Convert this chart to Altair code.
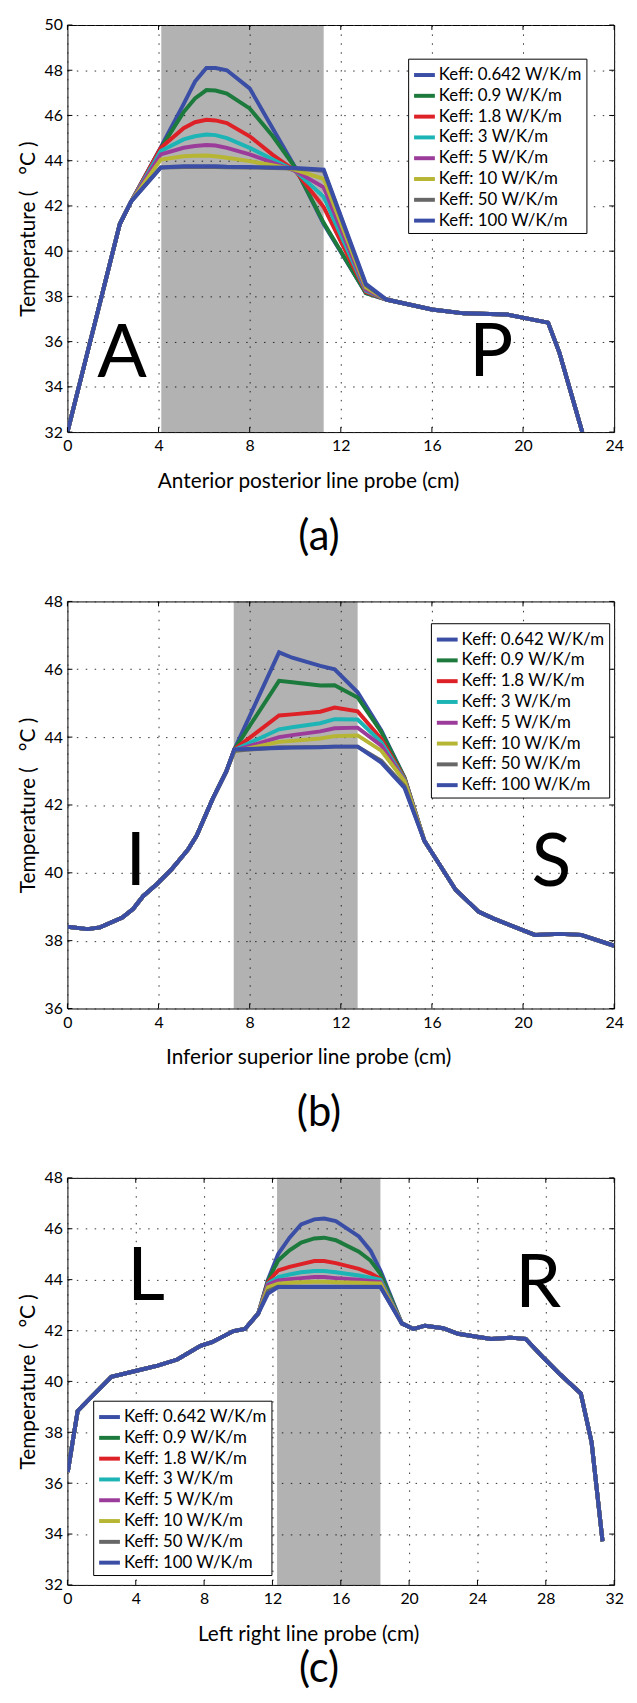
import altair as alt
import pandas as pd

FONT = "Lato"
W, H = 552, 411

SERIES = ["Keff: 0.642 W/K/m", "Keff: 0.9 W/K/m", "Keff: 1.8 W/K/m", "Keff: 3 W/K/m",
          "Keff: 5 W/K/m", "Keff: 10 W/K/m", "Keff: 50 W/K/m", "Keff: 100 W/K/m"]
COLORS = ["#3a4ea6", "#1c7a3c", "#de2127", "#1db4b6", "#9c3c9a", "#b6b534", "#676767", "#3a4ea6"]
YTITLE = "Temperature ( \u00a0\u00a0\u00b0C )"

# ---------------- Panel (a) ----------------
XA_LEFT = [0.0, 2.3, 2.8]
TA_LEFT = [32.0, 41.2, 42.2]
XA_MID = [4.1, 5.1, 5.6, 6.1, 6.5, 7.0, 8.0, 9.0, 10.0, 11.25, 13.1]
TA_MID = [
    [44.6, 46.5, 47.5, 48.1, 48.1, 48.0, 47.2, 45.45, 43.7, 41.2, 38.15],
    [44.55, 46.15, 46.75, 47.12, 47.1, 46.97, 46.31, 45.1, 43.7, 41.25, 38.15],
    [44.57, 45.44, 45.7, 45.81, 45.78, 45.66, 45.08, 44.27, 43.55, 41.95, 38.2],
    [44.43, 44.94, 45.08, 45.16, 45.13, 45.0, 44.57, 44.06, 43.55, 42.4, 38.25],
    [44.28, 44.57, 44.65, 44.69, 44.67, 44.57, 44.28, 43.92, 43.55, 42.82, 38.3],
    [44.05, 44.2, 44.22, 44.23, 44.2, 44.13, 43.98, 43.8, 43.6, 43.2, 38.4],
    [43.7, 43.72, 43.72, 43.72, 43.72, 43.71, 43.7, 43.68, 43.65, 43.55, 38.5],
    [43.7, 43.75, 43.75, 43.75, 43.75, 43.73, 43.72, 43.7, 43.68, 43.6, 38.56],
]
XA_RIGHT = [14.0, 16.0, 17.4, 19.3, 21.1, 21.6, 22.6]
TA_RIGHT = [37.86, 37.42, 37.25, 37.2, 36.84, 35.5, 32.0]
BAND_A = [4.12, 11.25]
LET_A = ["A", "P"]
LET_A_X = [2.4, 18.6]
LET_A_Y = [34.45, 34.5]
XTICKS_A = [0, 4, 8, 12, 16, 20, 24]
YTICKS_A = [32, 34, 36, 38, 40, 42, 44, 46, 48, 50]

# ---------------- Panel (b) ----------------
XB_LEFT = [0.0, 0.89, 1.43, 2.41, 2.89, 3.32, 3.93, 4.58, 5.3, 5.67, 6.39, 6.97]
TB_LEFT = [38.41, 38.34, 38.39, 38.68, 38.94, 39.31, 39.67, 40.11, 40.69, 41.09, 42.2, 42.98]
XB_MID = [7.33, 9.29, 9.87, 11.1, 11.73, 12.74, 13.78, 14.8]
TB_MID = [
    [43.64, 46.5, 46.34, 46.1, 46.0, 45.32, 44.2, 42.8],
    [43.64, 45.66, 45.62, 45.52, 45.53, 45.17, 44.15, 42.8],
    [43.64, 44.64, 44.67, 44.75, 44.87, 44.76, 43.95, 42.78],
    [43.62, 44.23, 44.29, 44.41, 44.53, 44.52, 43.85, 42.75],
    [43.6, 44.0, 44.06, 44.17, 44.26, 44.28, 43.75, 42.72],
    [43.58, 43.86, 43.89, 43.96, 44.03, 44.05, 43.6, 42.7],
    [43.6, 43.7, 43.7, 43.71, 43.72, 43.72, 43.3, 42.55],
    [43.64, 43.68, 43.69, 43.7, 43.72, 43.72, 43.25, 42.5],
]
XB_RIGHT = [15.67, 16.32, 17.04, 18.06, 18.71, 20.52, 21.6, 22.55, 24.0]
TB_RIGHT = [40.94, 40.26, 39.5, 38.85, 38.65, 38.17, 38.2, 38.17, 37.85]
BAND_B = [7.3, 12.74]
LET_B = ["I", "S"]
LET_B_X = [3.0, 21.25]
LET_B_Y = [39.63, 39.6]
XTICKS_B = [0, 4, 8, 12, 16, 20, 24]
YTICKS_B = [36, 38, 40, 42, 44, 46, 48]

# ---------------- Panel (c) ----------------
XC_LEFT = [0.02, 0.6, 2.57, 4.1, 5.28, 6.43, 7.79, 8.46, 9.72, 10.39, 11.17]
TC_LEFT = [36.44, 38.84, 40.18, 40.43, 40.62, 40.86, 41.4, 41.54, 41.98, 42.06, 42.67]
XC_MID = [11.74, 12.33, 13.0, 13.68, 14.45, 15.03, 15.71, 17.06, 17.74, 18.32]
TC_MID = [
    [44.0, 45.0, 45.65, 46.17, 46.37, 46.4, 46.3, 45.7, 45.14, 44.36],
    [43.95, 44.75, 45.15, 45.46, 45.62, 45.65, 45.55, 45.1, 44.75, 44.23],
    [43.9, 44.36, 44.5, 44.61, 44.73, 44.73, 44.65, 44.42, 44.25, 44.03],
    [43.85, 44.1, 44.2, 44.29, 44.34, 44.34, 44.29, 44.16, 44.08, 44.0],
    [43.8, 43.97, 44.02, 44.06, 44.1, 44.1, 44.06, 44.0, 43.95, 43.9],
    [43.7, 43.84, 43.88, 43.9, 43.92, 43.92, 43.9, 43.88, 43.86, 43.85],
    [43.55, 43.72, 43.72, 43.72, 43.72, 43.72, 43.72, 43.72, 43.72, 43.72],
    [43.45, 43.71, 43.71, 43.71, 43.71, 43.71, 43.71, 43.71, 43.71, 43.71],
]
XC_RIGHT = [19.57, 20.25, 20.93, 21.99, 22.86, 24.79, 25.95, 26.82, 27.88, 28.85, 30.05, 30.68, 31.32]
TC_RIGHT = [42.28, 42.06, 42.19, 42.09, 41.87, 41.67, 41.72, 41.67, 40.92, 40.27, 39.52, 37.61, 33.72]
BAND_C = [12.27, 18.32]
LET_C = ["L", "R"]
LET_C_X = [4.6, 27.55]
LET_C_Y = [43.2, 42.93]
XTICKS_C = [0, 4, 8, 12, 16, 20, 24, 28, 32]
YTICKS_C = [32, 34, 36, 38, 40, 42, 44, 46, 48]


def panel(xl, tl, xm, tm, xr, tr, band, letters, lx, ly, xticks, yticks,
          xtitle, caption, leg_x, leg_y, cap_offset):
    xs_all = xl + xm + xr
    rows = []
    for i, s in enumerate(SERIES):
        ts = tl + tm[i] + tr
        for j, (x, t) in enumerate(zip(xs_all, ts)):
            rows.append({"series": s, "x": x, "t": t, "k": j})
    df = pd.DataFrame(rows)

    xsc = alt.Scale(domain=[xticks[0], xticks[-1]], nice=False, zero=False)
    ysc = alt.Scale(domain=[yticks[0], yticks[-1]], nice=False, zero=False)
    xax = alt.Axis(values=xticks, title=xtitle, grid=True, labelFlush=False,
                   labelOverlap=False, format="d", labelPadding=6, titlePadding=17,
                   titleFontSize=21, titleX=243)
    yax = alt.Axis(values=yticks, title=YTITLE, grid=True,
                   labelFlush=False, labelOverlap=False, format="d",
                   labelPadding=5, titlePadding=6, titleFontSize=21)

    band_l = alt.Chart(pd.DataFrame({"x0": [band[0]], "x1": [band[1]]})).mark_rect(
        color="black", opacity=0.3).encode(
        x=alt.X("x0:Q", scale=xsc, axis=xax), x2="x1:Q",
        y=alt.value(0), y2=alt.value(H))

    lines = alt.Chart(df).mark_line(strokeWidth=4, clip=True).encode(
        x=alt.X("x:Q", scale=xsc, axis=xax),
        y=alt.Y("t:Q", scale=ysc, axis=yax),
        color=alt.Color("series:N", sort=SERIES,
                        scale=alt.Scale(domain=SERIES, range=COLORS),
                        legend=alt.Legend(title=None, orient="none", legendX=leg_x, legendY=leg_y,
                                          strokeColor="black", fillColor="white", padding=4,
                                          labelFont=FONT, labelFontSize=17, labelColor="black",
                                          symbolType="stroke", symbolStrokeWidth=4,
                                          symbolSize=441, labelOffset=2, rowPadding=0,
                                          labelLimit=0)),
        order="k:Q")

    xt = pd.DataFrame({"v": xticks})
    yt = pd.DataFrame({"v": yticks})
    tk_b = alt.Chart(xt).mark_rule(color="black").encode(
        x=alt.X("v:Q", scale=xsc, axis=xax), y=alt.value(H), y2=alt.value(H - 5))
    tk_t = alt.Chart(xt).mark_rule(color="black").encode(
        x=alt.X("v:Q", scale=xsc, axis=xax), y=alt.value(0), y2=alt.value(5))
    tk_l = alt.Chart(yt).mark_rule(color="black").encode(
        y=alt.Y("v:Q", scale=ysc, axis=yax), x=alt.value(0), x2=alt.value(5))
    tk_r = alt.Chart(yt).mark_rule(color="black").encode(
        y=alt.Y("v:Q", scale=ysc, axis=yax), x=alt.value(W), x2=alt.value(W - 5))

    let_df = pd.DataFrame({"ch": letters, "x": lx, "t": ly})
    let_l = alt.Chart(let_df).mark_text(font=FONT, fontSize=74, baseline="alphabetic",
                                        align="center", color="black").encode(
        x=alt.X("x:Q", scale=xsc, axis=xax), y=alt.Y("t:Q", scale=ysc, axis=yax), text="ch:N")

    return alt.layer(band_l, lines, tk_b, tk_t, tk_l, tk_r, let_l).properties(
        width=W, height=H,
        title=alt.TitleParams(caption, orient="bottom", anchor="middle", fontSize=42,
                              font=FONT, fontWeight="normal", color="black",
                              baseline="top", offset=cap_offset, dx=-22))


pa = panel(XA_LEFT, TA_LEFT, XA_MID, TA_MID, XA_RIGHT, TA_RIGHT, BAND_A, LET_A, LET_A_X, LET_A_Y,
           XTICKS_A, YTICKS_A, "Anterior posterior line probe (cm)", "(a)", 344, 34, 26)
pb = panel(XB_LEFT, TB_LEFT, XB_MID, TB_MID, XB_RIGHT, TB_RIGHT, BAND_B, LET_B, LET_B_X, LET_B_Y,
           XTICKS_B, YTICKS_B, "Inferior superior line probe (cm)", "(b)", 367, 22, 26)
pc = panel(XC_LEFT, TC_LEFT, XC_MID, TC_MID, XC_RIGHT, TC_RIGHT, BAND_C, LET_C, LET_C_X, LET_C_Y,
           XTICKS_C, YTICKS_C, "Left right line probe (cm)", "(c)", 26, 225, 5)

chart = alt.vconcat(pa, pb, pc, spacing=34).resolve_scale(
    color="independent", x="independent", y="independent"
).resolve_legend(color="independent").properties(
    padding={"left": 8, "top": 0, "right": 5, "bottom": 0}
).configure_view(stroke="black", strokeWidth=1).configure_axis(
    labelFont=FONT, titleFont=FONT, labelFontSize=16, titleFontSize=17,
    labelColor="black", titleColor="black", titleFontWeight="normal",
    domain=False, ticks=False, gridColor="#333333", gridDash=[1.5, 7.5], gridWidth=1
)

chart.save("out.html", embed_options={"renderer": "svg", "actions": False})
